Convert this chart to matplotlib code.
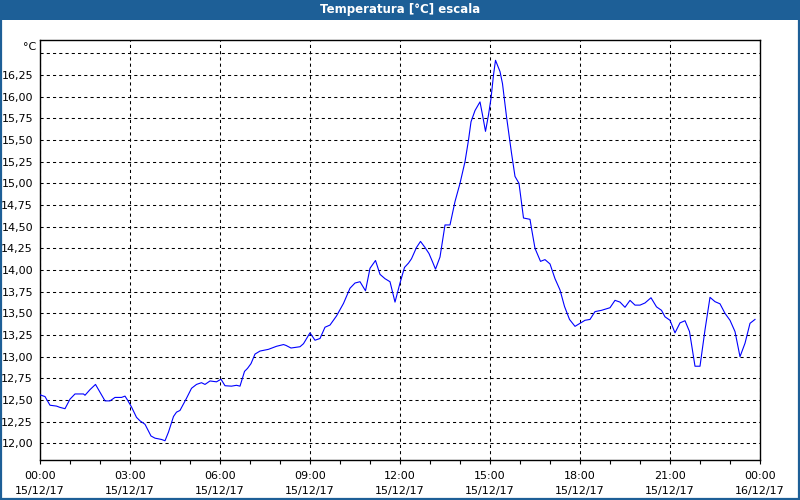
import matplotlib
matplotlib.use("Agg")
import matplotlib.pyplot as plt
from matplotlib.patches import Rectangle
from matplotlib.ticker import FixedLocator, MultipleLocator

# ---- datos: minutos desde las 00:00 del 15/12/17 y temperatura (°C) ----
minutos = [0, 10, 20, 33, 40, 50, 60, 70, 87, 90, 100, 111, 121, 130, 140, 150,
           163, 170, 175, 183, 193, 200, 210, 222, 230, 243, 250, 257, 267, 273,
           280, 293, 303, 313, 323, 330, 340, 353, 362, 370, 383, 393, 400, 409,
           415, 422, 430, 440, 457, 473, 487, 492, 502, 520, 527, 540, 550, 560,
           570, 580, 593, 607, 620, 630, 640, 651, 660, 665, 671, 680, 690, 700,
           710, 720, 729, 737, 743, 753, 761, 770, 778, 785, 791, 800, 810, 820,
           830, 840, 850, 857, 862, 870, 880, 885, 891, 897, 902, 907, 911, 920,
           925, 933, 943, 950, 958, 967, 980, 983, 990, 1001, 1010, 1020, 1030,
           1040, 1049, 1059, 1070, 1080, 1090, 1100, 1110, 1123, 1140, 1150, 1160,
           1170, 1180, 1190, 1200, 1210, 1222, 1233, 1243, 1250, 1260, 1270, 1280,
           1290, 1299, 1310, 1320, 1330, 1340, 1350, 1360, 1370, 1380, 1390, 1400,
           1410, 1420, 1430]
temp = [12.56, 12.54, 12.44, 12.43, 12.415, 12.40, 12.51, 12.57, 12.57, 12.555,
        12.62, 12.68, 12.58, 12.49, 12.49, 12.53, 12.53, 12.545, 12.50, 12.42,
        12.30, 12.26, 12.22, 12.085, 12.06, 12.045, 12.03, 12.13, 12.31, 12.36,
        12.38, 12.52, 12.635, 12.68, 12.70, 12.68, 12.72, 12.71, 12.74, 12.665,
        12.66, 12.67, 12.66, 12.83, 12.865, 12.92, 13.03, 13.065, 13.085, 13.12,
        13.14, 13.13, 13.10, 13.115, 13.15, 13.275, 13.19, 13.21, 13.34, 13.365,
        13.47, 13.615, 13.79, 13.85, 13.865, 13.76, 14.02, 14.06, 14.11, 13.95,
        13.90, 13.865, 13.63, 13.85, 14.03, 14.08, 14.13, 14.26, 14.33, 14.26,
        14.19, 14.095, 14.01, 14.15, 14.52, 14.52, 14.79, 15.00, 15.25, 15.50,
        15.71, 15.84, 15.94, 15.79, 15.60, 15.79, 15.98, 16.25, 16.42, 16.29,
        16.15, 15.77, 15.35, 15.08, 15.00, 14.60, 14.585, 14.48, 14.25, 14.10,
        14.12, 14.07, 13.90, 13.77, 13.58, 13.43, 13.35, 13.385, 13.42, 13.43,
        13.52, 13.535, 13.565, 13.65, 13.63, 13.57, 13.65, 13.595, 13.595, 13.62,
        13.68, 13.575, 13.535, 13.46, 13.42, 13.275, 13.39, 13.415, 13.29, 12.89,
        12.89, 13.31, 13.685, 13.635, 13.61, 13.50, 13.42, 13.29, 13.00, 13.155,
        13.385, 13.43]

horas_ticks = [0, 3, 6, 9, 12, 15, 18, 21, 24]
etiquetas_x = ["00:00\n15/12/17", "03:00\n15/12/17", "06:00\n15/12/17",
               "09:00\n15/12/17", "12:00\n15/12/17", "15:00\n15/12/17",
               "18:00\n15/12/17", "21:00\n15/12/17", "00:00\n16/12/17"]
y_ticks = [12.00, 12.25, 12.50, 12.75, 13.00, 13.25, 13.50, 13.75, 14.00,
           14.25, 14.50, 14.75, 15.00, 15.25, 15.50, 15.75, 16.00, 16.25, 16.50]

azul = "#1d5f97"

horas = [m / 60.0 for m in minutos]

fig = plt.figure(figsize=(8, 5), dpi=100)
fig.patch.set_facecolor("white")

# marco y barra de titulo
fig.patches.append(Rectangle((0, 0.96), 1, 0.04, transform=fig.transFigure,
                             facecolor=azul, edgecolor="none", zorder=0))
fig.patches.append(Rectangle((0.0015, 0.003), 0.997, 0.99, transform=fig.transFigure,
                             facecolor="none", edgecolor=azul, linewidth=1.6, zorder=0))
fig.text(0.5, 0.98, "Temperatura [°C] escala", color="white", fontsize=8.5,
         fontweight="bold", ha="center", va="center")

ax = fig.add_axes([0.05, 0.08, 0.90, 0.84])
ax.plot(horas, temp, color="#0000ff", linewidth=0.8, zorder=3)

ax.set_xlim(0, 24)
ax.set_ylim(11.808, 16.654)

ax.set_xticks(horas_ticks)
ax.set_xticklabels(etiquetas_x, fontsize=8, linespacing=1.55)
ax.xaxis.set_minor_locator(MultipleLocator(1))
ax.tick_params(axis="x", which="both", direction="out", length=3, width=0.8, pad=5)

ax.yaxis.set_major_locator(FixedLocator(y_ticks))
ax.set_yticklabels([("%.2f" % v).replace(".", ",") if v < 16.4 else "" for v in y_ticks],
                   fontsize=8)
ax.tick_params(axis="y", length=0, pad=5)

ax.grid(True, which="major", color="black", linestyle=(0, (3, 3)), linewidth=0.75)
for s in ax.spines.values():
    s.set_linewidth(1.0)

fig.text(0.045, 0.905, "°C", fontsize=8, ha="right", va="center")

plt.savefig("out.png", dpi=100)
